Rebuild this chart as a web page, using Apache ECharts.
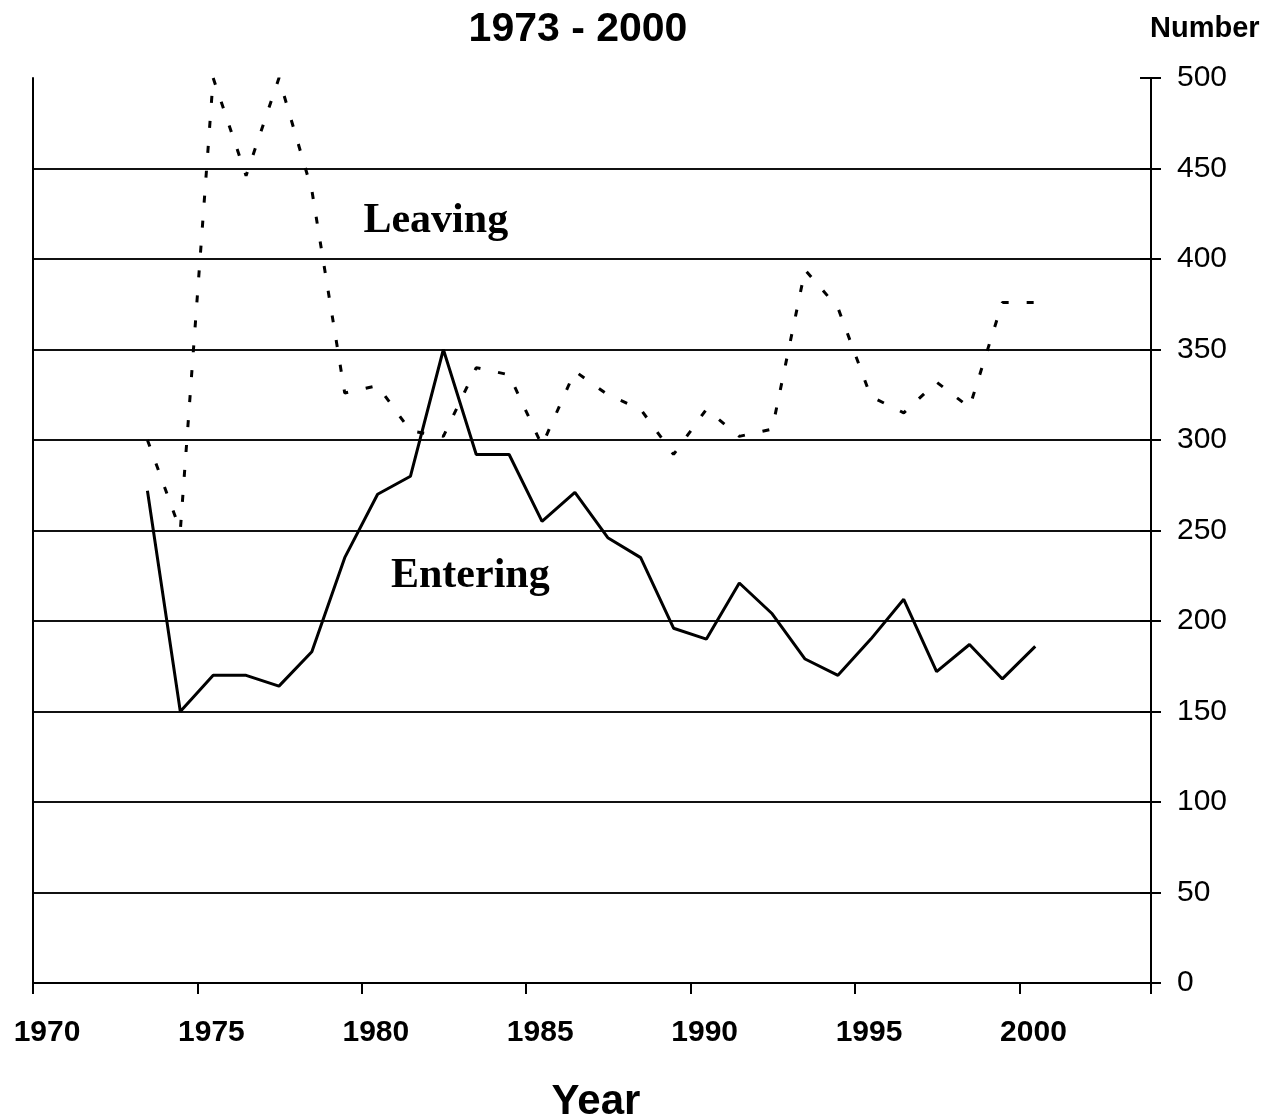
<!DOCTYPE html>
<html>
<head>
<meta charset="utf-8">
<script src="https://cdn.jsdelivr.net/npm/echarts@6/dist/echarts.min.js"></script>
<style>
html,body{margin:0;padding:0;background:#fff;}
#chart{width:1281px;height:1117px;}
</style>
</head>
<body>
<div id="chart"></div>
<script>
// Years and values
var years = [1973,1974,1975,1976,1977,1978,1979,1980,1981,1982,1983,1984,1985,1986,1987,1988,1989,1990,1991,1992,1993,1994,1995,1996,1997,1998,1999,2000];
var entering = [272,150,170,170,164,183,235,270,280,350,292,292,255,271,246,235,196,190,221,204,179,170,190,212,172,187,168,186];
var leaving  = [300,250,500,446,500,438,326,330,305,302,340,336,297,338,325,317,292,317,302,306,394,373,324,315,332,318,376,376];
var yTicks = [0,50,100,150,200,250,300,350,400,450,500];
var xTickYears = [1970,1975,1980,1985,1990,1995,2000];
// annotation labels anchored in data space [year, value]
var leavingLabel = {text: 'Leaving', coord: [1982.25, 421]};
var enteringLabel = {text: 'Entering', coord: [1983.3, 225]};
var titleText = '1973 - 2000';
var yName = 'Number';
var xName = 'Year';

var yearOffset = 0.48; // points sit mid-year
function pairs(vals){ return years.map(function(y,i){ return [y + yearOffset, vals[i]]; }); }

var chart = echarts.init(document.getElementById('chart'), null, {renderer:'canvas'});
var option = {
  backgroundColor: '#ffffff',
  animation: false,
  title: [
    {text: titleText, left: 573, top: 4, textAlign: 'center',
     textStyle: {fontFamily: 'Liberation Sans, Arial', fontWeight: 'bold', fontSize: 41, color: '#000'}},
    {text: yName, left: 1145, top: 9,
     textStyle: {fontFamily: 'Liberation Sans, Arial', fontWeight: 'bold', fontSize: 29, color: '#000'}}
  ],
  grid: {left: 33, right: 130, top: 78, bottom: 134, containLabel: false, outerBoundsMode: 'none'},
  xAxis: {
    type: 'value', min: 1970, max: 2004, interval: 5,
    name: xName, nameLocation: 'middle', nameGap: 98,
    nameTextStyle: {fontFamily: 'Liberation Sans, Arial', fontWeight: 'bold', fontSize: 42, color: '#000', padding: [0,0,0,8]},
    axisLine: {show: true, onZero: false, lineStyle: {color: '#000', width: 2}},
    axisTick: {show: true, inside: false, length: 11, lineStyle: {color: '#000', width: 2}},
    axisLabel: {margin: 35, padding: [0,0,0,28], fontFamily: 'Liberation Sans, Arial', fontWeight: 'bold', fontSize: 30, color: '#000',
      formatter: function(v){ return xTickYears.indexOf(v) >= 0 ? String(v) : ''; }},
    splitLine: {show: false}
  },
  yAxis: [
    {
      type: 'value', position: 'right', min: 0, max: 500, interval: 50,
      axisLine: {show: true, lineStyle: {color: '#000', width: 2}},
      axisTick: {show: true, inside: false, length: 10, lineStyle: {color: '#000', width: 2}},
      axisLabel: {margin: 26, fontFamily: 'Liberation Sans, Arial', fontSize: 30, color: '#000',
        formatter: function(v){ return yTicks.indexOf(v) >= 0 ? String(v) : ''; }},
      splitLine: {show: true, showMaxLine: false, showMinLine: false, lineStyle: {color: '#111', width: 2}}
    },
    {
      type: 'value', position: 'left', min: 0, max: 500, interval: 50,
      axisLine: {show: true, onZero: false, lineStyle: {color: '#000', width: 2}},
      axisTick: {show: false}, axisLabel: {show: false}, splitLine: {show: false}
    },
    {
      type: 'value', position: 'right', offset: 0, min: 0, max: 500, interval: 50,
      axisLine: {show: false},
      axisTick: {show: true, inside: true, length: 11, lineStyle: {color: '#000', width: 2}},
      axisLabel: {show: false}, splitLine: {show: false}
    }
  ],
  series: [
    {
      name: 'Leaving', type: 'line', data: pairs(leaving), showSymbol: false, symbol: 'none',
      lineStyle: {color: '#000', width: 3, type: [7, 18]},
      markPoint: {
        symbol: 'circle', symbolSize: 0,
        data: [{coord: leavingLabel.coord, value: leavingLabel.text}],
        label: {show: true, position: 'inside', formatter: leavingLabel.text,
          fontFamily: 'Liberation Serif, Times New Roman', fontWeight: 'bold', fontSize: 42, color: '#000'}
      }
    },
    {
      name: 'Entering', type: 'line', data: pairs(entering), showSymbol: false, symbol: 'none',
      lineStyle: {color: '#000', width: 3},
      markPoint: {
        symbol: 'circle', symbolSize: 0,
        data: [{coord: enteringLabel.coord, value: enteringLabel.text}],
        label: {show: true, position: 'inside', formatter: enteringLabel.text,
          fontFamily: 'Liberation Serif, Times New Roman', fontWeight: 'bold', fontSize: 42, color: '#000'}
      }
    }
  ]
};
chart.setOption(option);
</script>
</body>
</html>
